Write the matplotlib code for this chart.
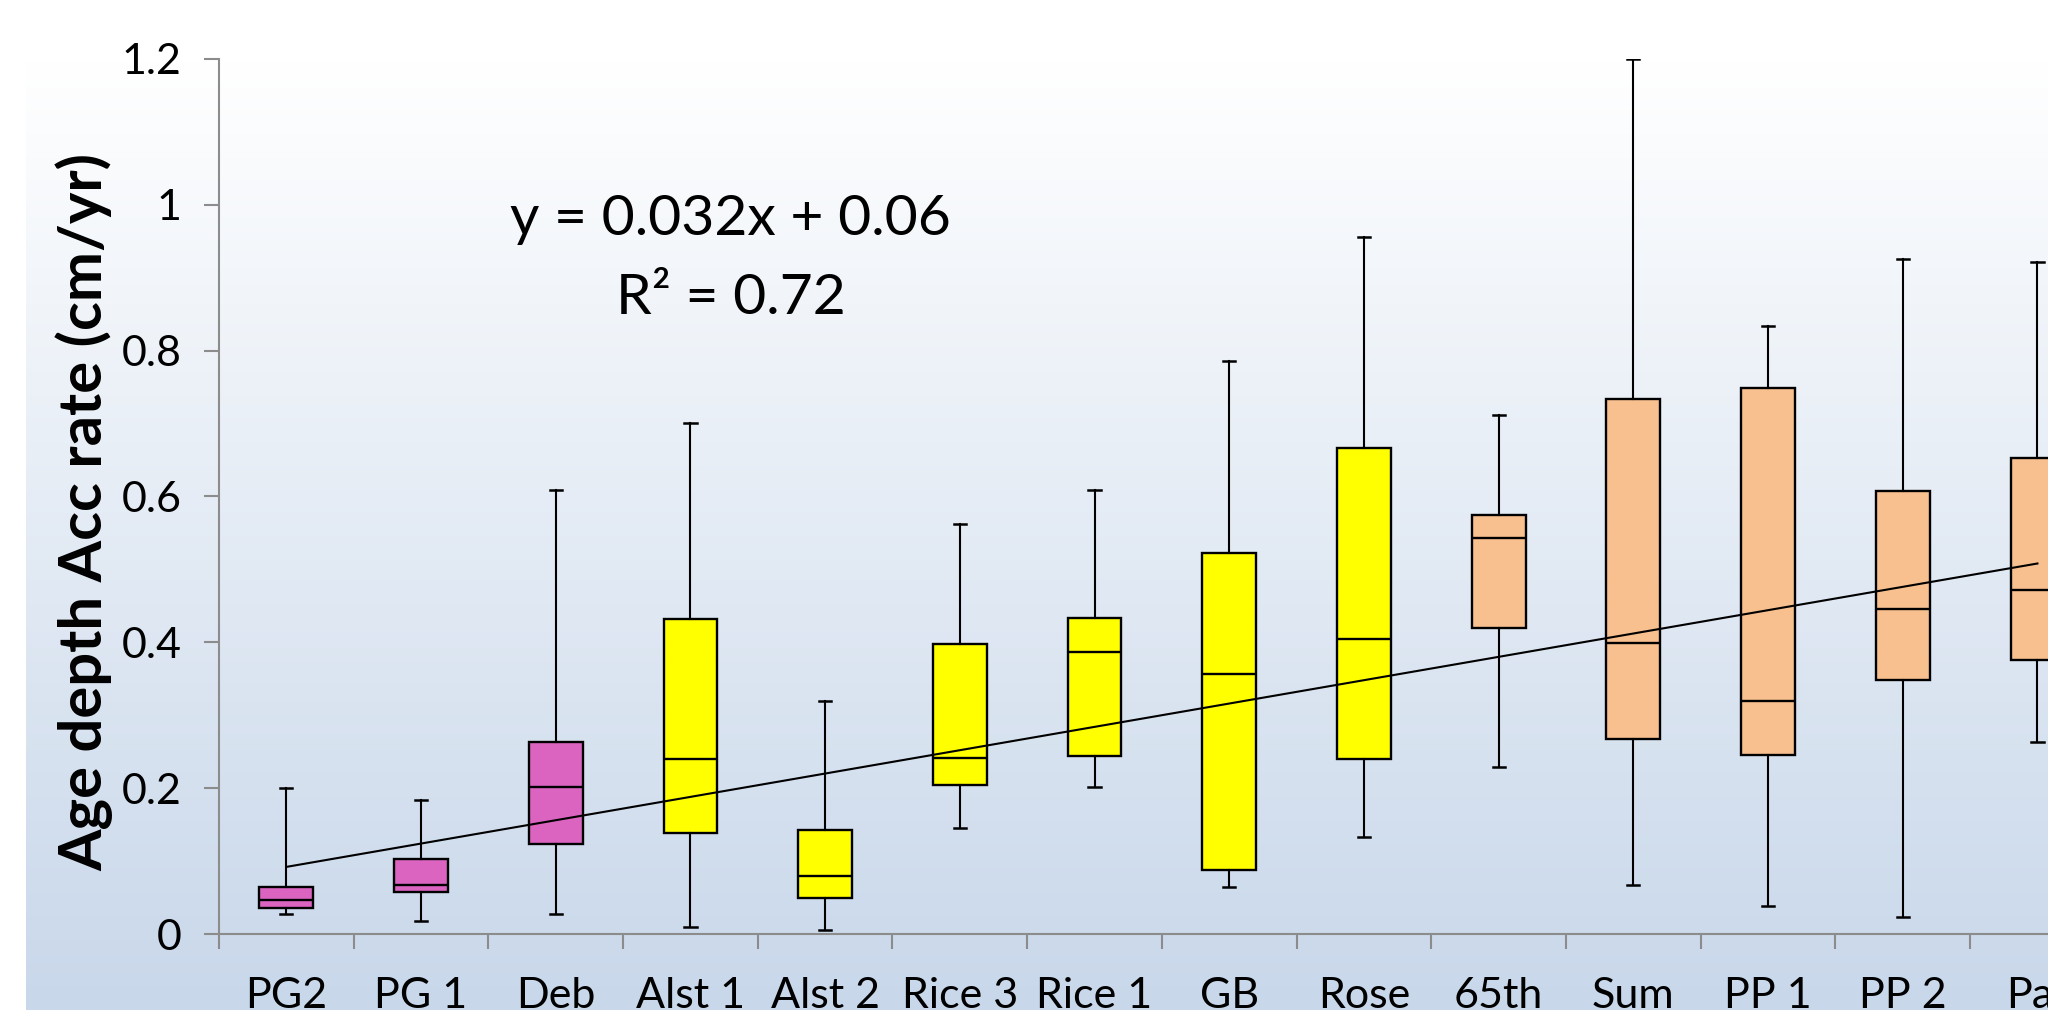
import numpy as np
import matplotlib.pyplot as plt
from matplotlib.colors import LinearSegmentedColormap

# sites and box statistics (cm/yr)
sites = ["PG2", "PG 1", "Deb", "Alst 1", "Alst 2", "Rice 3", "Rice 1",
         "GB", "Rose", "65th", "Sum", "PP 1", "PP 2", "Par"]
whisker_lo = [0.027, 0.018, 0.027, 0.009, 0.005, 0.146, 0.202,
              0.065, 0.133, 0.229, 0.067, 0.039, 0.023, 0.263]
q1 = [0.036, 0.058, 0.123, 0.138, 0.050, 0.204, 0.244,
      0.088, 0.240, 0.419, 0.267, 0.245, 0.348, 0.376]
median = [0.046, 0.067, 0.202, 0.240, 0.079, 0.242, 0.387,
          0.356, 0.405, 0.543, 0.399, 0.319, 0.445, 0.472]
q3 = [0.064, 0.103, 0.263, 0.432, 0.142, 0.398, 0.433,
      0.523, 0.666, 0.575, 0.734, 0.749, 0.607, 0.652]
whisker_hi = [0.200, 0.184, 0.609, 0.700, 0.319, 0.562, 0.609,
              0.785, 0.956, 0.711, 1.200, 0.833, 0.925, 0.921]
group = ["a", "a", "a", "b", "b", "b", "b", "b", "b", "c", "c", "c", "c", "c"]
group_colors = {"a": "#DA64C0", "b": "#FFFF00", "c": "#F9C08F"}

# linear trend fitted over site index
slope = 0.032
intercept = 0.06
r2 = 0.72

font = "Lato"
W, H, dpi = 2048, 1010, 100
fig = plt.figure(figsize=(W / dpi, H / dpi), dpi=dpi)
fig.patch.set_facecolor("white")

# background gradient (white at top, pale blue at bottom)
bg = fig.add_axes([26 / W, 0, 1 - 26 / W, 1], zorder=0)
cmap = LinearSegmentedColormap.from_list("bg", ["#FFFFFF", "#FFFFFF", "#C9D8EA"], N=256)
cmap = LinearSegmentedColormap.from_list(
    "bg", [(0.0, "#FFFFFF"), (0.06, "#FFFFFF"), (1.0, "#C8D7EA")], N=256)
grad = np.linspace(0, 1, 256).reshape(-1, 1)
bg.imshow(grad, aspect="auto", cmap=cmap, extent=[0, 1, 0, 1], origin="upper")
bg.axis("off")

ax = fig.add_axes([219 / W, 76 / H, 1 - 219 / W, (934 - 58.8) / H], zorder=1)
ax.patch.set_alpha(0)

pos = np.arange(1, len(sites) + 1)
stats = []
for i in range(len(sites)):
    stats.append(dict(whislo=whisker_lo[i], q1=q1[i], med=median[i],
                      q3=q3[i], whishi=whisker_hi[i], fliers=[]))

bp = ax.bxp(stats, positions=pos, widths=0.4, patch_artist=True,
            showfliers=False, capwidths=0.09,
            boxprops=dict(edgecolor="black", linewidth=1.7),
            medianprops=dict(color="black", linewidth=1.7),
            whiskerprops=dict(color="black", linewidth=1.5),
            capprops=dict(color="black", linewidth=1.8))
for patch, g in zip(bp["boxes"], group):
    patch.set_facecolor(group_colors[g])

# trend line
ax.plot(pos, slope * pos + intercept, color="black", linewidth=1.5, zorder=5)

ax.text(4.3, 0.98, "y = %.3fx + %.2f" % (slope, intercept), ha="center", va="center",
        fontsize=41, family=font)
ax.text(4.3, 0.872, "R² = %.2f" % r2, ha="center", va="center",
        fontsize=41, family=font)

ax.set_xlim(0.5, 0.5 + (W - 219) / 134.7)
ax.set_ylim(0, 1.2)
ax.set_yticks([0, 0.2, 0.4, 0.6, 0.8, 1.0, 1.2])
ax.set_yticklabels(["0", "0.2", "0.4", "0.6", "0.8", "1", "1.2"])

# category boundaries as major ticks, names as minor ticks
ax.set_xticks(np.arange(0.5, len(sites) + 0.5, 1.0))
ax.set_xticklabels([])
ax.set_xticks(pos, minor=True)
ax.set_xticklabels(sites, minor=True)

for s in ["top", "right"]:
    ax.spines[s].set_visible(False)
for s in ["left", "bottom"]:
    ax.spines[s].set_color("#8C8C8C")
    ax.spines[s].set_linewidth(1.5)
ax.spines["left"].set_bounds(0, 1.2)

ax.tick_params(axis="both", which="major", color="#8C8C8C", width=1.5, length=10.8)
ax.tick_params(axis="x", which="minor", length=0, pad=31, labelsize=31)
ax.tick_params(axis="y", which="major", pad=16, labelsize=31)
for lab in ax.get_xticklabels(minor=True) + ax.get_yticklabels():
    lab.set_family(font)

fig.text(84 / W, 1 - 512 / H, "Age depth Acc rate (cm/yr)", rotation=90,
         ha="center", va="center", fontsize=43, fontweight="bold", family=font)

fig.savefig("out.png", dpi=dpi)
